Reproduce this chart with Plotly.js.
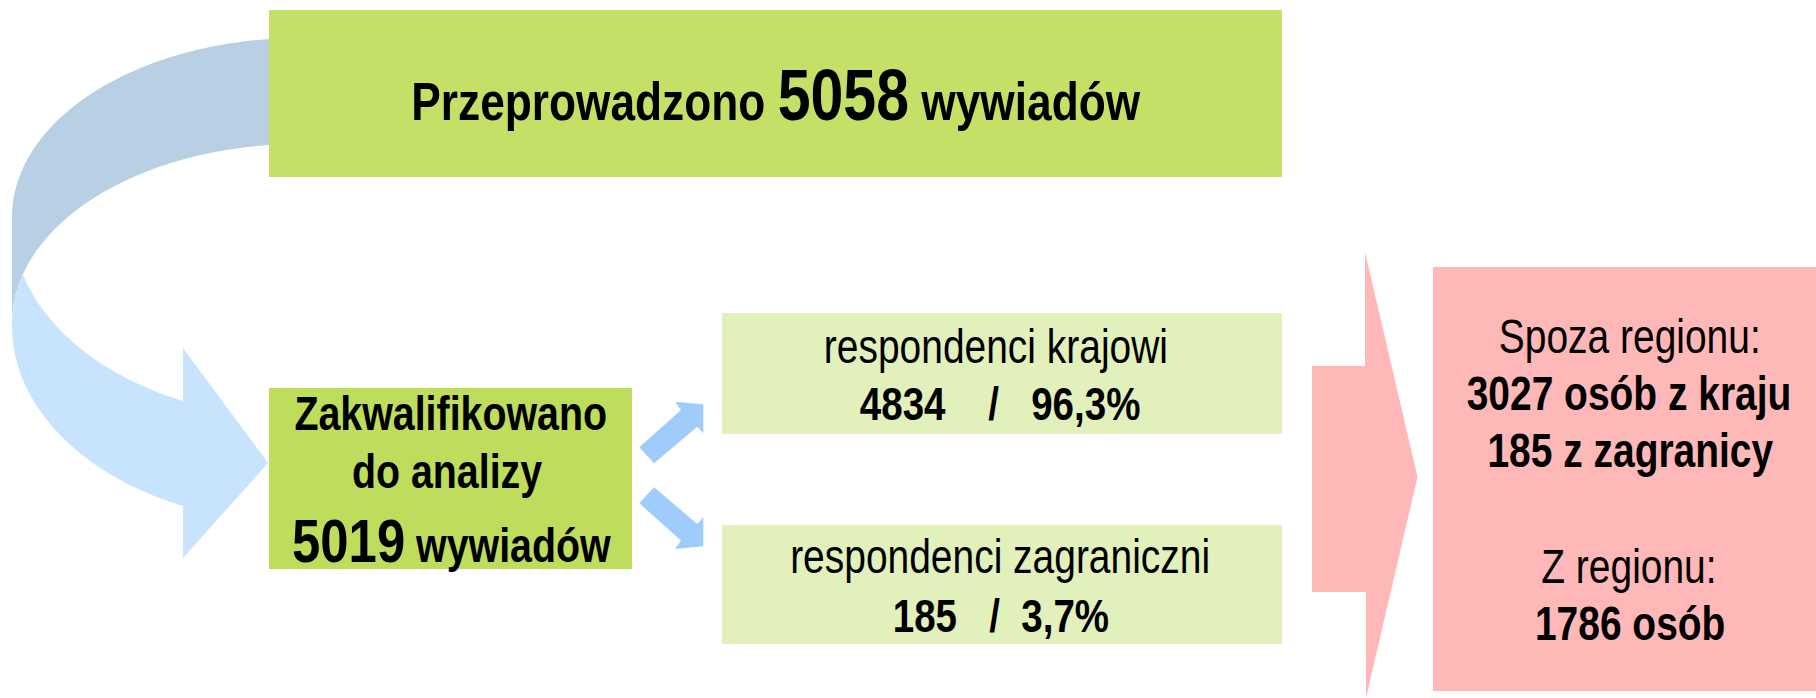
<!DOCTYPE html>
<html><head><meta charset="utf-8">
<script src="https://cdn.plot.ly/plotly-3.0.1.min.js"></script>
<style>html,body{margin:0;padding:0;background:#fff;overflow:hidden}#chart{width:1816px;height:698px}</style>
</head><body><div id="chart"></div>
<script>
// ---- data ----
const totalInterviews = [5058, 5019];
const stageLabels = ['Przeprowadzono', 'Zakwalifikowano', 'do analizy', 'wywiadów'];
const groupNames = ['respondenci krajowi', 'respondenci zagraniczni'];
const groupCounts = [4834, 185];
const groupShares = [96.3, 3.7];
const originHeaders = ['Spoza regionu:', 'Z regionu:'];
const outsideCounts = [3027, 185];
const outsideLabels = ['osób z kraju', 'z zagranicy'];
const regionCounts = [1786];
const regionLabels = ['osób'];

// ---- layout helpers ----
const W = 1816, H = 698;
const FONT = "'Liberation Sans', Arial, sans-serif";
const NARROW = 0.82; // Arial Narrow ~ Arial scaled horizontally
const C = {
  topBox: '#C4E067', leftBox: '#BEDD5C', midBox: '#E2F0BC', pink: '#FEB8B8',
  bandBack: '#B9CFE3', bandFront: '#C8E3FD', smallArrow: '#9FCCFB'
};
const nb = n => '\u00A0'.repeat(n);
const pct = v => v.toFixed(1).replace('.', ',') + '%';

function ellPts(cx, cy, rx, ry, t0, t1, n) {
  const pts = [];
  for (let i = 0; i <= n; i++) {
    const t = t0 + (t1 - t0) * i / n;
    pts.push([cx + rx * Math.cos(t), cy + ry * Math.sin(t)]);
  }
  return pts;
}
function toPath(pts) {
  return 'M' + pts.map(p => p[0].toFixed(2) + ',' + p[1].toFixed(2)).join(' L') + ' Z';
}
function rect(x0, y0, x1, y1, color) {
  return {type: 'rect', xref: 'x', yref: 'y', x0, y0, x1, y1, fillcolor: color, line: {width: 0}, layer: 'above'};
}
function poly(pts, color) {
  return {type: 'path', xref: 'x', yref: 'y', path: toPath(pts), fillcolor: color, line: {width: 0}, layer: 'above'};
}

// curved ribbon arrow
const rx = 288, cxE = 300;
const backTop = ellPts(cxE, 217, rx, 179, 1.5 * Math.PI, Math.PI, 80);
const backBot = ellPts(cxE, 323, rx, 179, Math.PI, 1.5 * Math.PI, 80);
const backBand = backTop.concat([[12, 330]], backBot);
const sI = 105 / (2 * 197);
const tI = Math.PI - Math.acos(Math.sqrt(1 - sI * sI));
const t183 = Math.PI - Math.acos((cxE - 183) / rx);
const frontInner = ellPts(cxE, 221, rx, 197, tI, t183, 60);
const head = [[183, 348], [268, 463], [183, 558]];
const frontOuter = ellPts(cxE, 326, rx, 197, t183, 2 * Math.PI - tI, 80);
const frontBand = frontInner.concat(head, frontOuter);

const upArrow = [[639.3, 447.3], [681, 410], [675, 401.7], [703.3, 404.3], [703.3, 433.3], [697.3, 426.7], [654, 463.3]];
const downArrow = upArrow.map(p => [p[0], 950.6 - p[1]]);
const pinkArrow = [[1312, 366], [1365, 366], [1365, 252], [1417.5, 477], [1366, 698], [1366, 592], [1312, 592]];

const shapes = [
  poly(backBand, C.bandBack),
  poly(frontBand, C.bandFront),
  rect(269, 10, 1282, 177, C.topBox),
  rect(269, 388, 632, 569, C.leftBox),
  rect(722, 313, 1282, 434, C.midBox),
  rect(722, 525, 1282, 644, C.midBox),
  poly(upArrow, C.smallArrow),
  poly(downArrow, C.smallArrow),
  poly(pinkArrow, C.pink),
  rect(1433, 267, 1816, 691, C.pink)
];

const annotations = [];
function line(text, x, baseline, fs, fsMax) {
  const m = fsMax || fs;
  annotations.push({
    xref: 'x', yref: 'y', x: x, y: baseline - 0.3465 * m,
    xanchor: 'center', yanchor: 'middle', showarrow: false,
    text: text, font: {family: FONT, size: fs, color: '#000'}
  });
}
const big = (v, s) => `<span style="font-size:${s}px">${v}</span>`;

// top box
line(`<b>${stageLabels[0]} ${big(totalInterviews[0], 72)} ${stageLabels[3]}</b>`, 775.5, 120, 54, 72);
// left box
line(`<b>${stageLabels[1]}</b>`, 450, 430, 48);
line(`<b>${stageLabels[2]}</b>`, 447, 488, 48);
line(`<b>${big(totalInterviews[1], 62)} ${stageLabels[3]}</b>`, 451, 562, 48, 62);
// middle boxes
line(groupNames[0], 996, 363, 47.5);
line(`<b>${groupCounts[0]}${nb(4)}/${nb(3)}${pct(groupShares[0])}</b>`, 1000, 420, 47);
line(groupNames[1], 1000, 573, 47.5);
line(`<b>${groupCounts[1]}${nb(3)}/${nb(2)}${pct(groupShares[1])}</b>`, 1001, 632, 47);
// pink box
line(originHeaders[0], 1630, 353, 47.5);
line(`<b>${outsideCounts[0]} ${outsideLabels[0]}</b>`, 1629, 410, 47.5);
line(`<b>${outsideCounts[1]} ${outsideLabels[1]}</b>`, 1630, 467, 47.5);
line(originHeaders[1], 1629, 583, 47.5);
line(`<b>${regionCounts[0]} ${regionLabels[0]}</b>`, 1630, 640, 47.5);

const data = [{type: 'scatter', x: [0, W], y: [0, H], mode: 'markers', marker: {opacity: 0}, hoverinfo: 'skip', showlegend: false}];
const layout = {
  width: W, height: H, margin: {l: 0, r: 0, t: 0, b: 0},
  paper_bgcolor: '#fff', plot_bgcolor: '#fff', showlegend: false,
  xaxis: {range: [0, W], visible: false, fixedrange: true},
  yaxis: {range: [H, 0], visible: false, fixedrange: true},
  shapes: shapes, annotations: annotations, font: {family: FONT}
};
Plotly.newPlot('chart', data, layout, {staticPlot: true, displayModeBar: false}).then(gd => {
  // condense annotation text horizontally to mimic Arial Narrow
  gd.querySelectorAll('text.annotation-text').forEach(t => {
    const bb = t.getBBox();
    const cx = bb.x + bb.width / 2;
    t.setAttribute('transform', `translate(${cx},0) scale(${NARROW},1) translate(${-cx},0)`);
  });
});
</script></body></html>
